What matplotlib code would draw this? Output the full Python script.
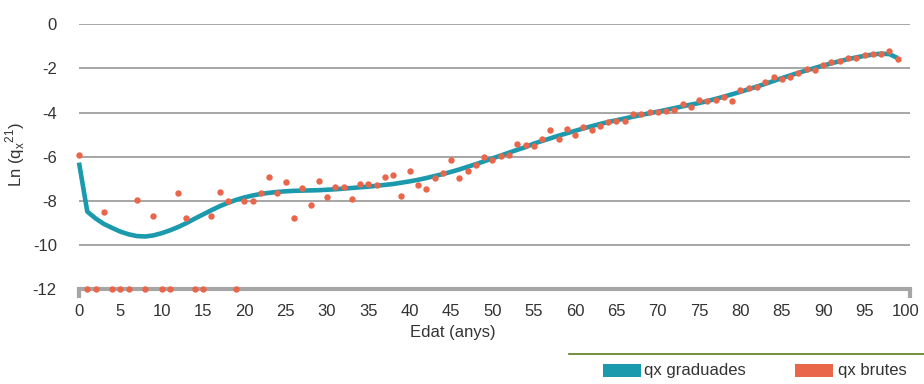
import matplotlib
matplotlib.use("Agg")
import matplotlib.pyplot as plt
from matplotlib.patches import Rectangle
from matplotlib.lines import Line2D

plt.rcParams['font.family'] = ['Liberation Sans', 'DejaVu Sans']

# edats 0..99
edat = list(range(100))

# ln(qx) graduades
qx_graduades = [
    -6.27, -8.49, -8.80, -9.05, -9.23, -9.40, -9.52, -9.60, -9.62, -9.57,
    -9.47, -9.34, -9.19, -9.01, -8.81, -8.62, -8.43, -8.25, -8.10, -7.96,
    -7.85, -7.76, -7.69, -7.64, -7.60, -7.57, -7.55, -7.54, -7.53, -7.52,
    -7.50, -7.48, -7.45, -7.42, -7.39, -7.36, -7.32, -7.28, -7.24, -7.18,
    -7.12, -7.05, -6.97, -6.88, -6.79, -6.69, -6.58, -6.46, -6.34, -6.21,
    -6.08, -5.95, -5.82, -5.69, -5.57, -5.41, -5.29, -5.17, -5.05, -4.94,
    -4.83, -4.72, -4.62, -4.52, -4.43, -4.35, -4.27, -4.19, -4.11, -4.03,
    -3.96, -3.88, -3.80, -3.72, -3.64, -3.57, -3.48, -3.38, -3.28, -3.17,
    -3.06, -2.94, -2.82, -2.70, -2.57, -2.44, -2.32, -2.20, -2.09, -1.98,
    -1.87, -1.77, -1.67, -1.58, -1.50, -1.43, -1.37, -1.33, -1.35, -1.53,
]

# ln(qx) brutes (-12 = sense defuncions)
qx_brutes = [
    -5.93, -12, -12, -8.53, -12, -12, -12, -7.96, -12, -8.67,
    -12, -12, -7.65, -8.77, -12, -12, -8.71, -7.61, -8.00, -12,
    -8.00, -8.02, -7.63, -6.93, -7.64, -7.16, -8.80, -7.44, -8.17, -7.11,
    -7.85, -7.37, -7.38, -7.91, -7.22, -7.25, -7.28, -6.90, -6.83, -7.78,
    -6.63, -7.29, -7.46, -6.96, -6.72, -6.16, -6.99, -6.64, -6.36, -6.02,
    -6.16, -5.95, -5.92, -5.43, -5.47, -5.50, -5.19, -4.80, -5.19, -4.74,
    -5.01, -4.65, -4.79, -4.61, -4.43, -4.37, -4.37, -4.06, -4.08, -3.99,
    -3.99, -3.93, -3.90, -3.60, -3.76, -3.44, -3.47, -3.41, -3.29, -3.47,
    -2.96, -2.90, -2.83, -2.60, -2.37, -2.46, -2.37, -2.22, -2.04, -2.05,
    -1.83, -1.72, -1.65, -1.53, -1.53, -1.39, -1.33, -1.33, -1.22, -1.57,
]

xticks = list(range(0, 101, 5))
yticks = [0, -2, -4, -6, -8, -10, -12]

teal = '#1b9aae'
coral = '#ea664b'
grid = '#a6a6a6'
txt = '#333333'

W, H = 924, 384
fig = plt.figure(figsize=(W / 100, H / 100), dpi=100)


def px(x, y, w=0, h=0):
    # pixel box (top-left origin) -> figure fraction [left, bottom, w, h]
    return [x / W, 1 - (y + h) / H, w / W, h / H]


ax = fig.add_axes(px(79, 24.3, 831, 264.7))
ax.set_xlim(0, 100.5)
ax.set_ylim(-12, 0)

for v in yticks[:-1]:
    ax.axhline(v, color=grid, lw=1.4, zorder=1)

ax.plot(edat, qx_graduades, color=teal, lw=3.3, zorder=3, clip_on=False,
        solid_capstyle='butt')
ax.plot(edat, qx_brutes, 'o', color=coral, ms=4.6, mec='none', zorder=4,
        clip_on=False)

for s in ['top', 'right', 'left']:
    ax.spines[s].set_visible(False)
ax.spines['bottom'].set_color(grid)
ax.spines['bottom'].set_linewidth(3)
ax.spines['bottom'].set_zorder(2)

# stubs at both ends of the x axis
for xe in (0, 1):
    ax.plot([xe, xe], [0, -0.035], transform=ax.transAxes, color=grid,
            lw=3, clip_on=False, solid_capstyle='butt', zorder=2)

ax.set_xticks(xticks)
ax.set_yticks(yticks)
ax.set_yticklabels([str(v) for v in yticks])
ax.tick_params(length=0, labelsize=12, colors=txt)
ax.tick_params(axis='x', pad=11)
ax.tick_params(axis='y', pad=16)

ax.set_xlabel('Edat (anys)', fontsize=12, color=txt)
ax.xaxis.set_label_coords((453 - 79) / 831, -(333 - 289) / 264.7)
ax.xaxis.label.set_va('center')
ax.set_ylabel(r'Ln (q$_\mathregular{x}$$^\mathregular{21}$)', fontsize=12,
              color=txt)
ax.yaxis.set_label_coords((15 - 79) / 831, (289 - 155) / 264.7)
ax.yaxis.label.set_va('center')

# legend
fig.add_artist(Line2D([569 / W, 1], [1 - 354 / H, 1 - 354 / H],
                      transform=fig.transFigure, color='#5a7d1e', lw=1.2))
r = px(603, 363.5, 38, 13)
fig.add_artist(Rectangle(r[:2], r[2], r[3], transform=fig.transFigure,
                         color=teal, lw=0))
fig.text(644 / W, 1 - 370 / H, 'qx graduades', fontsize=12, color=txt,
         va='center', ha='left')
r = px(795, 363.5, 38, 13)
fig.add_artist(Rectangle(r[:2], r[2], r[3], transform=fig.transFigure,
                         color=coral, lw=0))
fig.text(838 / W, 1 - 370 / H, 'qx brutes', fontsize=12, color=txt,
         va='center', ha='left')

fig.savefig('out.png', dpi=100)
